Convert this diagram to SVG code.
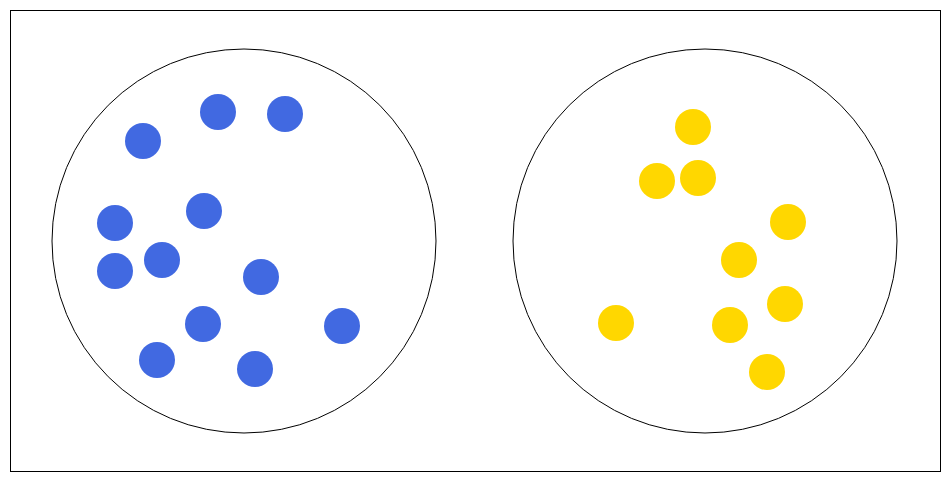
<svg xmlns="http://www.w3.org/2000/svg" width="950" height="482" viewBox="0 0 950 482">
<style>
.frame{fill:#fff;stroke:#000;stroke-width:1}
.ring{fill:none;stroke:#000;stroke-width:1}
.b{fill:#4169E1}
.y{fill:#FFD700}
</style>
<rect x="0" y="0" width="950" height="482" fill="#fff"/>
<rect class="frame" x="10.5" y="10.5" width="930" height="461"/>
<g id="left-set">
<circle class="ring" cx="244" cy="241" r="192"/>
<circle class="b" cx="218" cy="112" r="18"/>
<circle class="b" cx="285" cy="114" r="18"/>
<circle class="b" cx="143" cy="141" r="18"/>
<circle class="b" cx="204" cy="211" r="18"/>
<circle class="b" cx="115" cy="223" r="18"/>
<circle class="b" cx="162" cy="260" r="18"/>
<circle class="b" cx="115" cy="271" r="18"/>
<circle class="b" cx="261" cy="277" r="18"/>
<circle class="b" cx="203" cy="324" r="18"/>
<circle class="b" cx="342" cy="326" r="18"/>
<circle class="b" cx="157" cy="360" r="18"/>
<circle class="b" cx="255" cy="369" r="18"/>
</g>
<g id="right-set">
<circle class="ring" cx="705" cy="241" r="192"/>
<circle class="y" cx="693" cy="127" r="18"/>
<circle class="y" cx="657" cy="181" r="18"/>
<circle class="y" cx="698" cy="178" r="18"/>
<circle class="y" cx="788" cy="222" r="18"/>
<circle class="y" cx="739" cy="260" r="18"/>
<circle class="y" cx="785" cy="304" r="18"/>
<circle class="y" cx="616" cy="323" r="18"/>
<circle class="y" cx="730" cy="325" r="18"/>
<circle class="y" cx="767" cy="372" r="18"/>
</g>
<g id="connectors"></g>
</svg>
